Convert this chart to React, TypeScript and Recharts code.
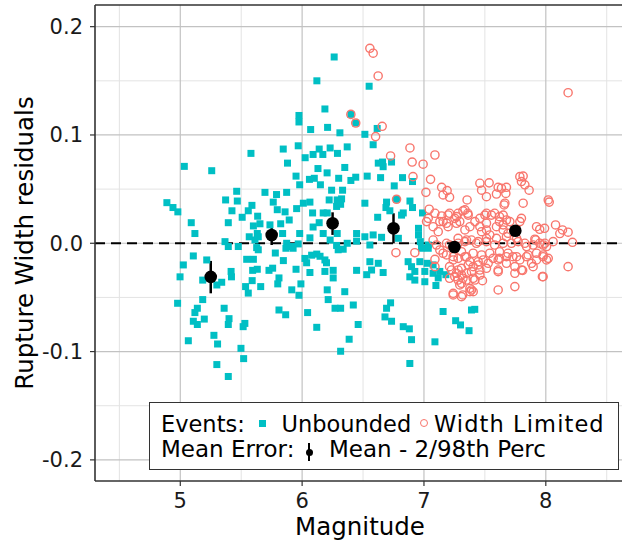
import React from 'react';
import {
  ScatterChart, Scatter, XAxis, YAxis, ReferenceLine, ErrorBar,
} from 'recharts';

// Events whose rupture width is not limited (cyan squares): [magnitude, residual]
const unbounded: [number, number][] = [
  [6.263, 0.172], [6.121, 0.150], [6.187, 0.124], [5.974, 0.118], [5.974, 0.112], [6.07, 0.105],
  [6.209, 0.107], [6.31, 0.102], [6.37, 0.089], [5.58, 0.083], [5.845, 0.087], [5.968, 0.090],
  [6.025, 0.079], [6.09, 0.082], [6.14, 0.087], [6.17, 0.082], [6.23, 0.088], [6.29, 0.083],
  [5.033, 0.071], [5.258, 0.067], [5.88, 0.074], [6.13, 0.069], [6.205, 0.065], [6.35, 0.070],
  [6.30, 0.060], [6.44, 0.061], [6.40, 0.058], [5.95, 0.062], [6.06, 0.059], [6.10, 0.060],
  [6.15, 0.054], [5.98, 0.054], [4.89, 0.0375], [4.94, 0.033], [4.98, 0.029], [5.09, 0.019],
  [5.12, 0.009], [5.463, 0.048], [5.372, 0.040], [5.468, 0.039], [5.424, 0.030], [5.394, 0.019],
  [5.508, 0.024], [5.558, 0.030], [5.588, 0.035], [5.635, 0.025], [5.60, 0.016], [5.654, 0.018],
  [5.632, 0.009], [5.736, 0.017], [5.824, 0.018], [5.84, 0.009], [5.695, 0.047], [5.79, 0.045],
  [5.873, 0.047], [5.763, 0.038], [5.796, 0.031], [5.86, 0.029], [5.894, 0.0215], [5.955, 0.032],
  [6.01, 0.037], [6.064, 0.038], [6.086, 0.028], [6.09, 0.015], [5.98, 0.009], [6.14, 0.019],
  [6.173, 0.028], [6.222, 0.040], [6.242, 0.049], [6.288, 0.040], [6.324, 0.041], [6.332, 0.049],
  [6.283, 0.034], [6.316, 0.036], [6.206, 0.028], [6.173, 0.009], [6.288, 0.009], [6.447, 0.009],
  [6.37, 0.0], [6.447, 0.002], [6.23, 0.003], [6.064, 0.005], [5.873, 0.0], [5.914, -0.003],
  [6.283, -0.002], [5.367, 0.0015], [5.394, -0.003], [5.476, -0.003], [5.613, 0.003], [5.627, -0.004],
  [5.107, -0.0117], [5.025, -0.020], [4.998, -0.031], [5.217, -0.0154], [5.184, -0.034], [5.30, -0.0385],
  [5.34, -0.036], [5.417, -0.026], [5.42, -0.031], [4.978, -0.0554], [5.184, -0.052], [5.14, -0.060],
  [5.12, -0.064], [5.107, -0.072], [5.14, -0.075], [5.197, -0.070], [5.36, -0.060], [5.40, -0.0696],
  [5.394, -0.075], [5.066, -0.090], [5.276, -0.085], [5.306, -0.093], [5.30, -0.112], [5.394, -0.123],
  [5.498, -0.097], [5.52, -0.1065], [5.53, -0.074], [5.516, -0.077], [5.536, -0.040], [5.558, -0.046],
  [5.545, -0.0148], [5.60, -0.0148], [5.594, -0.025], [5.632, -0.024], [5.59, -0.0345], [5.66, -0.040],
  [5.728, -0.025], [5.758, -0.023], [5.81, -0.032], [5.80, -0.0375], [5.78, -0.009], [5.846, -0.016],
  [5.915, -0.043], [5.974, -0.048], [5.95, -0.024], [5.99, -0.0375], [5.81, -0.0616], [5.865, -0.066],
  [6.045, -0.064], [6.12, -0.0776], [6.023, -0.014], [6.037, -0.018], [6.064, -0.027], [6.078, -0.011],
  [6.12, -0.010], [6.147, -0.012], [6.187, -0.0154], [6.20, -0.018], [6.187, -0.026], [6.255, -0.025],
  [6.255, -0.032], [6.206, -0.043], [6.214, -0.052], [6.27, -0.060], [6.316, -0.060], [6.35, -0.0447],
  [6.42, -0.057], [6.386, -0.0886], [6.316, -0.0997], [6.296, -0.006], [6.337, -0.0055], [6.447, -0.025],
  [6.46, -0.075], [5.867, -0.0046], [5.926, -0.0046], [5.968, -0.0006], [5.64, -0.006], [5.566, 0.006],
  [5.64, 0.006], [6.55, 0.145], [6.40, 0.119], [6.44, 0.111], [6.616, 0.106], [6.515, 0.1006],
  [6.583, 0.091], [6.625, 0.074], [6.66, 0.075], [6.665, 0.0707], [6.734, 0.075], [6.534, 0.062],
  [6.644, 0.0606], [6.824, 0.0606], [6.906, 0.057], [6.756, 0.053], [6.515, 0.037], [6.693, 0.038],
  [6.688, 0.033], [6.775, 0.0406], [6.885, 0.039], [6.906, 0.033], [6.988, 0.028], [6.62, 0.024],
  [6.816, 0.026], [6.72, 0.030], [6.83, 0.028], [6.556, -0.0016], [6.515, 0.006], [6.583, 0.0077],
  [6.652, 0.0055], [6.79, 0.0046], [6.955, 0.0138], [6.955, 0.0077], [6.97, 0.0015], [7.035, -0.0016],
  [6.98, -0.0046], [7.035, -0.0046], [6.556, -0.017], [6.625, -0.0185], [6.57, -0.0247], [6.53, -0.029],
  [6.665, -0.027], [6.87, -0.017], [6.898, -0.0216], [6.925, -0.026], [6.884, -0.031], [6.925, -0.034],
  [6.966, -0.017], [7.026, -0.0185], [7.075, -0.020], [7.007, -0.026], [7.075, -0.0277], [7.13, -0.026],
  [7.18, -0.029], [7.117, -0.032], [7.007, -0.0355], [7.098, -0.039], [6.726, -0.055], [6.693, -0.060],
  [6.68, -0.068], [6.734, -0.072], [6.83, -0.077], [6.88, -0.079], [6.898, -0.089], [6.884, -0.111],
  [7.09, -0.091], [7.157, -0.063], [7.26, -0.0715], [7.30, -0.0754], [7.37, -0.0807], [7.39, -0.0616],
  [7.417, -0.061],
];

// Events whose rupture width is limited (red open circles)
const widthLimited: [number, number][] = [
  [6.556, 0.180], [6.583, 0.1755], [6.624, 0.1545], [8.183, 0.139], [6.40, 0.119], [6.44, 0.111],
  [6.657, 0.108], [6.603, 0.0985], [6.885, 0.088], [7.09, 0.0815], [6.726, 0.0806], [6.903, 0.075],
  [6.993, 0.073], [6.91, 0.0615], [7.054, 0.059], [6.775, 0.0406], [7.016, 0.047], [7.145, 0.0517],
  [7.19, 0.0486], [7.157, 0.0446], [7.21, 0.0425], [7.354, 0.040], [7.043, 0.0314], [7.09, 0.0277],
  [7.145, 0.0252], [7.198, 0.0261], [7.253, 0.023], [7.035, 0.023], [7.13, 0.020], [7.185, 0.0185],
  [7.267, 0.0185], [7.32, 0.030], [7.36, 0.0277], [7.28, 0.0277], [7.459, 0.0554], [7.473, 0.049],
  [7.535, 0.0558], [7.513, 0.043], [7.595, 0.0455], [7.636, 0.0508], [7.677, 0.0517], [7.609, 0.0517],
  [7.672, 0.046], [7.664, 0.037], [7.658, 0.0354], [7.787, 0.0615], [7.814, 0.062], [7.80, 0.057],
  [7.828, 0.054], [7.863, 0.049], [7.814, 0.037], [8.02, 0.040], [8.028, 0.038], [7.80, 0.023],
  [7.787, 0.020], [7.513, 0.0277], [7.554, 0.026], [7.58, 0.0277], [7.62, 0.0246], [7.677, 0.0215],
  [7.65, 0.017], [7.705, 0.020], [7.924, 0.0153], [7.95, 0.0129], [7.99, 0.0138], [8.08, 0.0169],
  [8.137, 0.0123], [8.183, 0.0102], [8.219, 0.0009], [7.91, 0.0037], [7.978, -0.0016], [8.006, -0.003],
  [6.77, -0.0087], [6.925, -0.0087], [7.09, -0.0148], [7.09, -0.0216], [7.185, -0.0108], [7.13, -0.0062],
  [7.103, -0.0016], [7.21, -0.0016], [7.28, 0.0], [7.336, 0.0015], [7.39, 0.003], [7.445, 0.0015],
  [7.513, 0.0046], [7.595, 0.0046], [7.677, 0.006], [7.76, 0.0046], [7.828, 0.0], [7.896, -0.0016],
  [7.95, 0.0], [8.06, 0.0015], [8.115, 0.009], [7.24, -0.0154], [7.28, -0.0139], [7.336, -0.0124],
  [7.377, -0.017], [7.404, -0.0216], [7.445, -0.017], [7.486, -0.0154], [7.527, -0.0185], [7.568, -0.0139],
  [7.62, -0.0139], [7.677, -0.0124], [7.73, -0.0124], [7.787, -0.0154], [7.842, -0.0124], [7.883, -0.0185],
  [7.924, -0.0154], [7.978, -0.0108], [8.006, -0.0154], [8.02, -0.0139], [7.226, -0.0247], [7.267, -0.0277],
  [7.308, -0.0231], [7.349, -0.0277], [7.39, -0.0262], [7.459, -0.0247], [7.513, -0.0231], [7.609, -0.0262],
  [7.746, -0.0277], [7.81, -0.025], [7.972, -0.0308], [8.183, -0.0216], [7.24, -0.0462], [7.318, -0.0477],
  [7.377, -0.0447], [7.39, -0.0431], [7.308, -0.0369], [7.404, -0.0323], [7.48, -0.0345], [7.609, -0.0431],
  [7.746, -0.040], [7.253, -0.0308], [7.28, -0.0339], [7.32, -0.0323], [7.21, 0.0277], [7.267, 0.0246],
  [7.336, 0.0308], [7.363, 0.026], [7.459, 0.023], [7.50, 0.026], [7.65, 0.026], [7.513, 0.0185],
  [7.021, 0.020], [7.075, 0.0153], [7.117, 0.0107], [7.157, 0.020], [7.198, 0.0153], [7.294, 0.020],
  [7.336, 0.0123], [7.377, 0.0153], [7.418, 0.020], [7.459, 0.0153], [7.473, 0.0107], [7.513, 0.0123],
  [7.54, 0.0077], [7.595, 0.0153], [7.62, 0.020], [7.65, 0.0123], [7.69, 0.0092], [7.075, 0.003],
  [7.185, 0.0], [7.28, 0.0046], [7.349, 0.003], [7.43, 0.0], [7.513, 0.0015], [7.58, -0.0016],
  [7.65, 0.0], [7.718, 0.0], [7.773, 0.0015], [7.842, -0.003], [7.918, 0.003], [7.992, 0.0],
  [7.157, -0.0092], [7.24, -0.0124], [7.308, -0.0078], [7.349, -0.0124], [7.404, -0.0092], [7.473, -0.0108],
  [7.54, -0.0092], [7.62, -0.0078], [7.69, -0.0092], [7.76, -0.0124], [7.855, -0.0108], [7.924, -0.0092],
  [7.978, -0.0124], [7.896, -0.0216], [7.21, -0.0216], [7.28, -0.0247], [7.363, -0.020], [7.445, -0.020],
  [7.609, -0.0154], [7.677, -0.0185], [7.746, -0.0216], [7.459, -0.0293], [7.308, -0.0293], [7.21, -0.0323],
  [7.349, -0.0339], [7.418, -0.0339], [7.609, -0.0247], [7.80, -0.0247], [7.24, -0.0477], [7.308, -0.0493],
  [7.377, -0.0416], [7.404, -0.0447], [7.294, -0.0385], [7.978, -0.0308],
];

// binned mean with 2nd / 98th percentile of the mean
const meanMag = [5.25, 5.75, 6.25, 6.75, 7.25, 7.75];
const meanRes = [-0.031, 0.0077, 0.0185, 0.0139, -0.0035, 0.0115];
const meanLo = [-0.0462, -0.0016, 0.0077, 0.0, -0.009, 0.007];
const meanHi = [-0.0163, 0.0169, 0.0286, 0.0277, 0.002, 0.016];

const xTicks = [5, 6, 7, 8];
const xMinor = [4.5, 5.5, 6.5, 7.5, 8.5];
const yTicks = [-0.2, -0.1, 0, 0.1, 0.2];
const yMinor = [-0.15, -0.05, 0.05, 0.15];

const CYAN = '#00BFC4';
const RED = '#F8766D';
const FONT = '"DejaVu Sans", sans-serif';

const unbData = unbounded.map(([x, y]) => ({ x, y }));
const wlData = widthLimited.map(([x, y]) => ({ x, y }));
const meanData = meanMag.map((x, i) => ({
  x,
  y: meanRes[i],
  err: [meanRes[i] - meanLo[i], meanHi[i] - meanRes[i]],
}));

const Square = (p: any) => (
  <rect x={p.cx - 3.5} y={p.cy - 3.5} width={7} height={7} fill={CYAN} />
);
const Ring = (p: any) => (
  <circle cx={p.cx} cy={p.cy} r={4.1} fill="none" stroke={RED} strokeWidth={1.4} />
);
const Dot = (p: any) => <circle cx={p.cx} cy={p.cy} r={6.3} fill="#000" />;

const tickStyle = { fill: '#1a1a1a', fontSize: 21, fontFamily: FONT };
const legendText: React.CSSProperties = {
  position: 'absolute', fontSize: 22.5, lineHeight: 1, fontFamily: FONT, color: '#000', whiteSpace: 'nowrap',
};

export default function App() {
  return (
    <div style={{ position: 'absolute', left: 0, top: 0, width: 622, height: 543, overflow: 'hidden', background: '#fff', fontFamily: FONT }}>
      <ScatterChart width={640} height={543} margin={{ top: 5, right: 15, left: 0, bottom: 0 }}>
        {xMinor.map(v => <ReferenceLine key={'xm' + v} x={v} stroke="#e3e3e3" strokeWidth={1} />)}
        {yMinor.map(v => <ReferenceLine key={'ym' + v} y={v} stroke="#e3e3e3" strokeWidth={1} />)}
        {xTicks.map(v => <ReferenceLine key={'xM' + v} x={v} stroke="#c2c2c2" strokeWidth={1.2} />)}
        {yTicks.map(v => <ReferenceLine key={'yM' + v} y={v} stroke="#c2c2c2" strokeWidth={1.2} />)}
        <ReferenceLine y={0.22} stroke="#333" strokeWidth={1.6} />
        <XAxis
          type="number" dataKey="x" domain={[4.3, 8.65]} ticks={xTicks} allowDataOverflow
          height={62} tickSize={5} tickMargin={7} tick={tickStyle}
          axisLine={{ stroke: '#333', strokeWidth: 1.6 }} tickLine={{ stroke: '#333', strokeWidth: 1.2 }}
          label={{ value: 'Magnitude', position: 'insideBottom', offset: 8, fill: '#000', fontSize: 24.5, fontFamily: FONT }}
        />
        <YAxis
          type="number" dataKey="y" domain={[-0.2195, 0.22]} ticks={yTicks} allowDataOverflow
          width={95} tickSize={5} tickMargin={7} tick={tickStyle}
          tickFormatter={(v: number) => v.toFixed(1)}
          axisLine={{ stroke: '#333', strokeWidth: 1.6 }} tickLine={{ stroke: '#333', strokeWidth: 1.2 }}
          label={{ value: 'Rupture Width residuals', angle: -90, position: 'insideLeft', offset: 24, fill: '#000', fontSize: 24.5, fontFamily: FONT, style: { textAnchor: 'middle' } }}
        />
        <ReferenceLine y={0} stroke="#000" strokeWidth={2} strokeDasharray="10 6" />
        <Scatter data={unbData} shape={Square} isAnimationActive={false} />
        <Scatter data={wlData} shape={Ring} isAnimationActive={false} />
        <Scatter data={meanData} shape={Dot} isAnimationActive={false}>
          <ErrorBar dataKey="err" direction="y" width={0} stroke="#000" strokeWidth={2.5} />
        </Scatter>
      </ScatterChart>

      {/* legend box, ggplot style */}
      <div style={{ position: 'absolute', left: 149, top: 402, width: 470, height: 68, boxSizing: 'border-box', border: '1.3px solid #333', background: '#fff' }} />
      <span style={{ ...legendText, left: 161, top: 412.5 }}>Events:</span>
      <span style={{ position: 'absolute', left: 259, top: 420, width: 7, height: 7, background: CYAN }} />
      <span style={{ ...legendText, left: 281.5, top: 412.5 }}>Unbounded</span>
      <span style={{ position: 'absolute', left: 420, top: 419, width: 8, height: 8, boxSizing: 'border-box', border: `1.2px solid ${RED}`, borderRadius: '50%' }} />
      <span style={{ ...legendText, left: 434, top: 412.5, letterSpacing: 1.1 }}>Width Limited</span>
      <span style={{ ...legendText, left: 161, top: 438, fontSize: 23 }}>Mean Error:</span>
      <span style={{ position: 'absolute', left: 308, top: 443, width: 2, height: 18, background: '#000' }} />
      <span style={{ position: 'absolute', left: 305.5, top: 448.5, width: 7, height: 7, borderRadius: '50%', background: '#000' }} />
      <span style={{ ...legendText, left: 329, top: 438, fontSize: 23 }}>Mean - 2/98th Perc</span>
    </div>
  );
}
